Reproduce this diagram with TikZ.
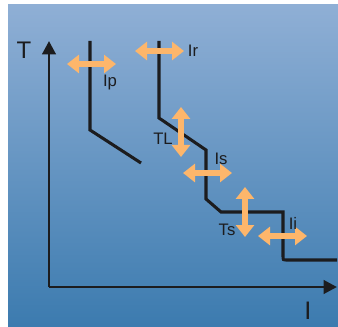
\documentclass[tikz,border=0pt]{standalone}
\usepackage{fontspec}
\setmainfont{Liberation Sans}
\usetikzlibrary{arrows.meta}
\definecolor{bgtop}{HTML}{8FAFD5}
\definecolor{bgbot}{HTML}{3C7BAF}
\definecolor{knob}{HTML}{FDB66B}
\definecolor{ink}{HTML}{1C1C1E}

\begin{document}
\begin{tikzpicture}[
      x=0.75pt, y=-0.75pt,
      axis/.style={ink, line width=2.2pt, -{Triangle[length=10pt, width=10pt]}},
      trip/.style={ink, line width=2.3pt},
      knobarrow/.style={knob, line width=3.9pt, {Triangle[length=9pt, width=13.5pt]}-{Triangle[length=9pt, width=13.5pt]}},
      lbl/.style={text=ink, inner sep=0pt, font=\fontsize{12.5}{14}\selectfont},
      axlbl/.style={text=ink, inner sep=0pt, font=\fontsize{18}{20}\selectfont}]
    \useasboundingbox (0,0) rectangle (338,327);
    \shade[top color=bgtop, bottom color=bgbot] (8,5) rectangle (338,326);
    % axes
    \coordinate (origin) at (49,287);
    \coordinate (ytip) at (49,41);
    \coordinate (xtip) at (337,287);
    \draw[axis] (origin) -- (ytip);
    \draw[axis] (origin) -- (xtip);
    \node[axlbl] (tlabel) at (24,50) {T};
    \node[axlbl, font=\fontsize{19}{21}\selectfont] (ilabel) at (308,311) {I};
    % trip curves
    \draw[trip] (90,41) -- (90,130) -- (141,163);
    \draw[trip] (159,41) -- (159,118) -- (206,150) -- (206,199) -- (221,212)
      -- (283,212) -- (283,256) .. controls (283,260) .. (287,260) -- (337,260);
    % settings
    \draw[knobarrow] (67,64) -- (116,64);
    \draw[knobarrow] (135,51) -- (184,51);
    \draw[knobarrow] (181,107) -- (181,157);
    \draw[knobarrow] (183,173) -- (232,173);
    \draw[knobarrow] (245,187) -- (245,237);
    \draw[knobarrow] (258,236) -- (307,236);
    \node[lbl] (ip) at (110,82) {Ip};
    \node[lbl] (ir) at (193,51) {Ir};
    \node[lbl] (tl) at (163,139) {TL};
    \node[lbl] (is) at (221,159) {Is};
    \node[lbl] (ts) at (227,230) {Ts};
    \node[lbl] (ii) at (293,223) {Ii};
  \end{tikzpicture}
\end{document}
